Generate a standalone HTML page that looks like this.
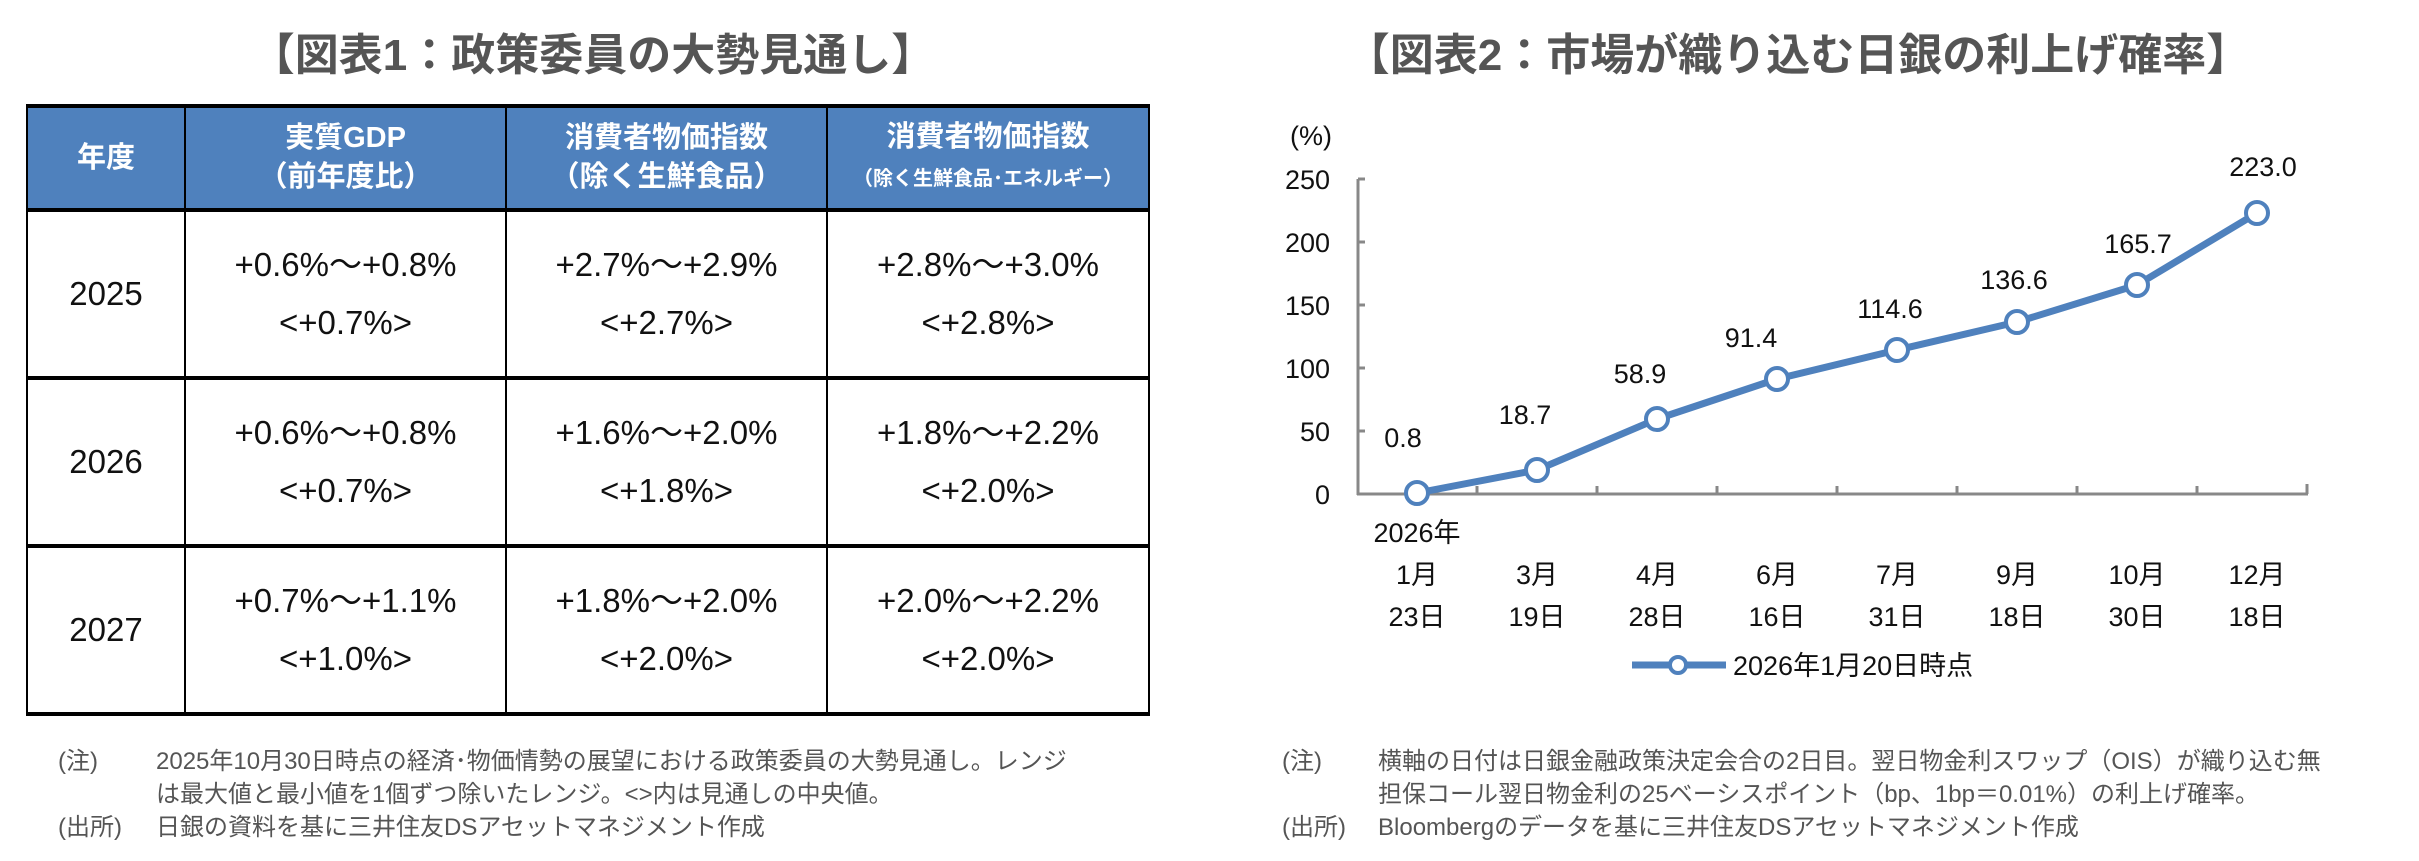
<!DOCTYPE html>
<html><head><meta charset="utf-8"><style>
body{margin:0;width:2419px;height:861px;background:#fff;overflow:hidden;font-family:"Liberation Sans","Noto Sans CJK JP",sans-serif;}
.t{position:absolute;white-space:nowrap;}
.title{font-size:44px;font-weight:bold;color:#555;top:19px;transform:translateX(-50%);}
table{position:absolute;left:26px;top:104px;width:1122px;border-collapse:collapse;table-layout:fixed;}
td,th{border:2px solid #000;text-align:center;padding:0;}
th{background:#4f81bd;color:#fff;font-size:29px;font-weight:bold;height:100px;line-height:39px;border-bottom:4px solid #000;border-top:4px solid #000;}
td{height:164px;font-size:33px;color:#111;line-height:58px;border-bottom:4px solid #000;}
.note{font-size:24px;color:#555;line-height:33px;}
</style></head><body>
<div class="t title" style="left:593px">【図表1：政策委員の大勢見通し】</div>
<div class="t title" style="left:1798px">【図表2：市場が織り込む日銀の利上げ確率】</div>
<table>
<colgroup><col style="width:158px"><col style="width:321px"><col style="width:321px"><col style="width:322px"></colgroup>
<tr><th>年度</th><th>実質GDP<br>（前年度比）</th><th>消費者物価指数<br>（除く生鮮食品）</th><th>消費者物価指数<br><span style="font-size:20px">（除く生鮮食品･エネルギー）</span></th></tr>
<tr><td>2025</td><td>+0.6%～+0.8%<br>&lt;+0.7%&gt;</td><td>+2.7%～+2.9%<br>&lt;+2.7%&gt;</td><td>+2.8%～+3.0%<br>&lt;+2.8%&gt;</td></tr>
<tr><td>2026</td><td>+0.6%～+0.8%<br>&lt;+0.7%&gt;</td><td>+1.6%～+2.0%<br>&lt;+1.8%&gt;</td><td>+1.8%～+2.2%<br>&lt;+2.0%&gt;</td></tr>
<tr><td>2027</td><td>+0.7%～+1.1%<br>&lt;+1.0%&gt;</td><td>+1.8%～+2.0%<br>&lt;+2.0%&gt;</td><td>+2.0%～+2.2%<br>&lt;+2.0%&gt;</td></tr>
</table>
<div class="t note" style="left:58px;top:745px">(注)<br><br>(出所)</div>
<div class="t note" style="left:156px;top:745px">2025年10月30日時点の経済･物価情勢の展望における政策委員の大勢見通し。レンジ<br>は最大値と最小値を1個ずつ除いたレンジ。&lt;&gt;内は見通しの中央値。<br>日銀の資料を基に三井住友DSアセットマネジメント作成</div>
<div class="t note" style="left:1282px;top:745px">(注)<br><br>(出所)</div>
<div class="t note" style="left:1378px;top:745px">横軸の日付は日銀金融政策決定会合の2日目。翌日物金利スワップ（OIS）が織り込む無<br>担保コール翌日物金利の25ベーシスポイント（bp、1bp＝0.01%）の利上げ確率。<br>Bloombergのデータを基に三井住友DSアセットマネジメント作成</div>
<svg width="2419" height="861" style="position:absolute;left:0;top:0" font-family="Liberation Sans, Noto Sans CJK JP, sans-serif" font-size="27" fill="#111">
<g stroke="#888" stroke-width="3">
<line x1="1358" y1="179" x2="1358" y2="495"/>
<line x1="1357" y1="494" x2="2308" y2="494"/>
<line x1="1358" y1="179" x2="1365" y2="179"/><line x1="1358" y1="242" x2="1365" y2="242"/><line x1="1358" y1="305" x2="1365" y2="305"/><line x1="1358" y1="368" x2="1365" y2="368"/><line x1="1358" y1="431" x2="1365" y2="431"/>
<line x1="1477" y1="486" x2="1477" y2="494"/><line x1="1597" y1="486" x2="1597" y2="494"/><line x1="1717" y1="486" x2="1717" y2="494"/><line x1="1837" y1="486" x2="1837" y2="494"/><line x1="1957" y1="486" x2="1957" y2="494"/><line x1="2077" y1="486" x2="2077" y2="494"/><line x1="2197" y1="486" x2="2197" y2="494"/><line x1="2307" y1="484" x2="2307" y2="494"/>
</g>
<g text-anchor="end"><text x="1330" y="189">250</text><text x="1330" y="252">200</text><text x="1330" y="315">150</text><text x="1330" y="378">100</text><text x="1330" y="441">50</text><text x="1330" y="504">0</text></g>
<text x="1311" y="145" text-anchor="middle">(%)</text>
<polyline fill="none" stroke="#4f81bd" stroke-width="7" stroke-linejoin="round" points="1417,493 1537,470 1657,419 1777,379 1897,350 2017,322 2137,285 2257,213"/>
<g fill="#fff" stroke="#4f81bd" stroke-width="4">
<circle cx="1417" cy="493" r="11"/><circle cx="1537" cy="470" r="11"/><circle cx="1657" cy="419" r="11"/><circle cx="1777" cy="379" r="11"/><circle cx="1897" cy="350" r="11"/><circle cx="2017" cy="322" r="11"/><circle cx="2137" cy="285" r="11"/><circle cx="2257" cy="213" r="11"/></g>
<g text-anchor="middle">
<text x="1403" y="447">0.8</text><text x="1525" y="424">18.7</text><text x="1640" y="383">58.9</text><text x="1751" y="347">91.4</text><text x="1890" y="318">114.6</text><text x="2014" y="289">136.6</text><text x="2138" y="253">165.7</text><text x="2263" y="176">223.0</text>
<text x="1417" y="542">2026年</text>
<text x="1417" y="584">1月</text><text x="1537" y="584">3月</text><text x="1657" y="584">4月</text><text x="1777" y="584">6月</text><text x="1897" y="584">7月</text><text x="2017" y="584">9月</text><text x="2137" y="584">10月</text><text x="2257" y="584">12月</text>
<text x="1417" y="626">23日</text><text x="1537" y="626">19日</text><text x="1657" y="626">28日</text><text x="1777" y="626">16日</text><text x="1897" y="626">31日</text><text x="2017" y="626">18日</text><text x="2137" y="626">30日</text><text x="2257" y="626">18日</text>
</g>
<line x1="1632" y1="665" x2="1726" y2="665" stroke="#4f81bd" stroke-width="7"/>
<circle cx="1678" cy="665" r="8" fill="#fff" stroke="#4f81bd" stroke-width="4"/>
<text x="1733" y="675">2026年1月20日時点</text>
</svg>
</body></html>
